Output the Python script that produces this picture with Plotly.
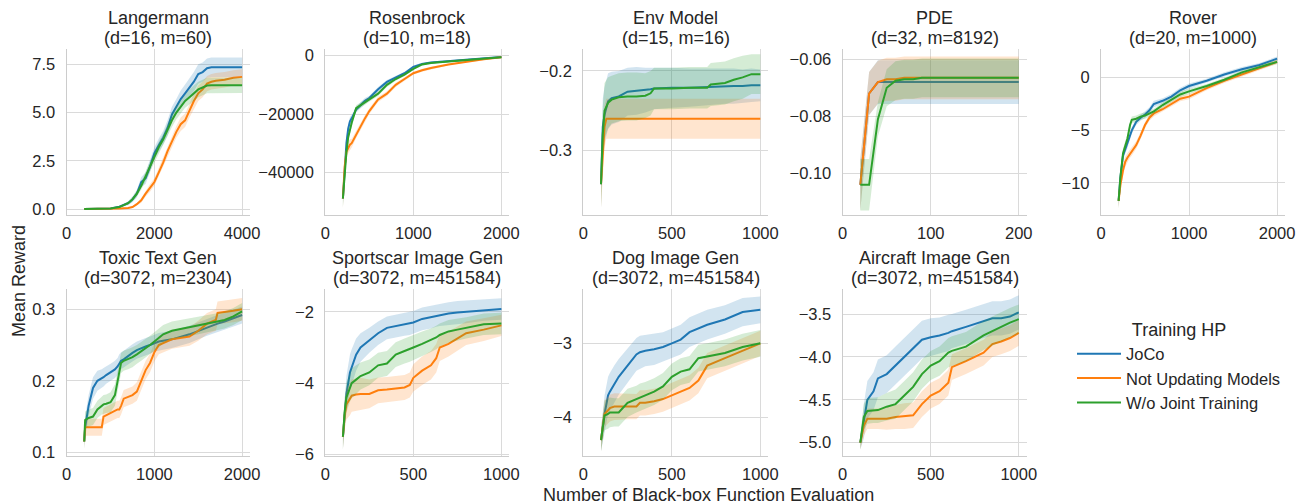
import plotly.graph_objects as go

# ---------------- data ----------------
SERIES = ["JoCo", "Not Updating Models", "W/o Joint Training"]
COLORS = ["#1f77b4", "#ff7f0e", "#2ca02c"]
BANDS = ["rgba(31,119,180,0.2)", "rgba(255,127,14,0.2)", "rgba(44,160,44,0.2)"]

# Langermann
lang_x = [400, 600, 800, 1000, 1200, 1400, 1500, 1600, 1700, 1800, 1900, 2000, 2100, 2200, 2300,
          2400, 2500, 2600, 2700, 2800, 2900, 3000, 3100, 3200, 3300, 3400, 3600, 3800, 4000]
lang_joco = [0, 0, 0.01, 0.03, 0.12, 0.3, 0.5, 0.8, 1.4, 1.6, 2.2, 2.9, 3.3, 3.7, 4.2, 4.9, 5.3, 5.7,
             6.0, 6.3, 6.6, 7.0, 7.1, 7.3, 7.35, 7.35, 7.35, 7.35, 7.35]
lang_noupd = [0, 0, 0, 0.01, 0.03, 0.05, 0.1, 0.25, 0.45, 0.8, 1.1, 1.4, 1.9, 2.4, 3.0, 3.5, 4.0, 4.4,
              4.6, 5.1, 5.6, 6.0, 6.2, 6.5, 6.6, 6.65, 6.7, 6.8, 6.85]
lang_nojoint = [0, 0, 0.01, 0.03, 0.1, 0.3, 0.5, 0.8, 1.2, 1.7, 2.2, 2.7, 3.2, 3.6, 4.1, 4.6, 5.0, 5.3,
                5.6, 5.8, 6.0, 6.2, 6.3, 6.4, 6.42, 6.42, 6.42, 6.42, 6.42]
lang_joco_err = [0, 0, 0.01, 0.02, 0.05, 0.1, 0.15, 0.2, 0.25, 0.3, 0.3, 0.3, 0.35, 0.35, 0.4, 0.4,
                 0.4, 0.45, 0.45, 0.45, 0.5, 0.5, 0.5, 0.5, 0.5, 0.5, 0.5, 0.5, 0.5]
lang_noupd_err = [0, 0, 0, 0.01, 0.02, 0.03, 0.05, 0.08, 0.12, 0.15, 0.2, 0.2, 0.25, 0.25, 0.3, 0.3,
                  0.3, 0.35, 0.35, 0.35, 0.4, 0.4, 0.4, 0.4, 0.4, 0.4, 0.4, 0.4, 0.4]
lang_nojoint_err = [0, 0, 0.01, 0.02, 0.04, 0.08, 0.12, 0.15, 0.2, 0.25, 0.25, 0.3, 0.3, 0.3, 0.3,
                    0.35, 0.35, 0.35, 0.35, 0.4, 0.4, 0.4, 0.4, 0.4, 0.4, 0.4, 0.4, 0.4, 0.4]

# Rosenbrock
rosen_x = [200, 220, 240, 260, 280, 300, 350, 400, 450, 500, 600, 700, 800, 900, 1000, 1100, 1200,
           1400, 1600, 1800, 2000]
rosen_joco = [-49000, -38000, -30000, -25000, -22500, -21500, -18500, -17000, -15500, -14500, -11500,
              -9000, -7500, -6000, -3800, -2800, -2300, -1800, -1300, -700, -400]
rosen_noupd = [-49000, -38000, -33000, -31500, -30500, -30000, -27000, -24500, -21500, -19000, -15000,
               -13000, -10000, -8000, -6000, -5000, -4200, -3000, -2000, -1200, -500]
rosen_nojoint = [-49000, -40000, -33000, -28000, -25000, -23000, -18000, -17000, -16000, -15000, -13000,
                 -10000, -8000, -6500, -4500, -3000, -2500, -2000, -1500, -900, -500]
rosen_joco_err = [3000, 2500, 2000, 1500, 1500, 1200, 1000, 1000, 1000, 800, 800, 700, 600, 500, 400,
                  400, 300, 300, 300, 200, 200]
rosen_noupd_err = [3500, 3000, 2500, 2000, 1800, 1500, 1300, 1200, 1100, 1000, 900, 800, 700, 600, 500,
                   500, 400, 300, 300, 200, 200]
rosen_nojoint_err = [3000, 2500, 2000, 1500, 1500, 1200, 1000, 1000, 900, 800, 800, 700, 600, 500, 400,
                     400, 300, 300, 300, 200, 200]

# Env Model
env_x = [100, 110, 120, 130, 140, 160, 200, 250, 300, 350, 380, 400, 500, 600, 700, 720, 800, 850, 900,
         950, 1000]
env_joco = [-0.342, -0.27, -0.255, -0.245, -0.238, -0.234, -0.232, -0.226, -0.225, -0.224, -0.223,
            -0.222, -0.221, -0.221, -0.220, -0.220, -0.219, -0.219, -0.219, -0.218, -0.218]
env_noupd = [-0.342, -0.30, -0.27, -0.26, -0.26, -0.26, -0.26, -0.26, -0.26, -0.26, -0.26, -0.26, -0.26,
             -0.26, -0.26, -0.26, -0.26, -0.26, -0.26, -0.26, -0.26]
env_nojoint = [-0.342, -0.28, -0.25, -0.245, -0.240, -0.236, -0.233, -0.232, -0.232, -0.231, -0.228,
               -0.222, -0.222, -0.221, -0.221, -0.217, -0.215, -0.211, -0.208, -0.204, -0.204]
env_joco_err = [0.03, 0.035, 0.035, 0.035, 0.035, 0.033, 0.032, 0.03, 0.03, 0.028, 0.027, 0.026, 0.025,
                0.024, 0.023, 0.023, 0.022, 0.022, 0.021, 0.021, 0.02]
env_noupd_err = [0.03, 0.03, 0.027, 0.025, 0.025, 0.025, 0.025, 0.025, 0.025, 0.025, 0.025, 0.025, 0.025,
                 0.025, 0.025, 0.025, 0.025, 0.025, 0.025, 0.025, 0.025]
env_nojoint_err = [0.03, 0.035, 0.035, 0.033, 0.032, 0.03, 0.03, 0.03, 0.03, 0.028, 0.028, 0.026, 0.026,
                   0.026, 0.026, 0.027, 0.027, 0.027, 0.027, 0.025, 0.025]

# PDE
pde_x = [20, 30, 40, 50, 60, 70, 80, 90, 100, 120, 140, 160, 180, 200]
pde_joco = [-0.104, -0.072, -0.068, -0.068, -0.068, -0.068, -0.068, -0.068, -0.068, -0.068, -0.068,
            -0.068, -0.068, -0.068]
pde_noupd = [-0.104, -0.072, -0.068, -0.067, -0.067, -0.0665, -0.0665, -0.0665, -0.0665, -0.0665,
             -0.0665, -0.0665, -0.0665, -0.0665]
pde_nojoint = [-0.104, -0.104, -0.081, -0.070, -0.0675, -0.067, -0.067, -0.0665, -0.0665, -0.0665,
               -0.0665, -0.0665, -0.0665, -0.0665]
pde_joco_err = [0.009, 0.0075, 0.0077, 0.0077, 0.0077, 0.0077, 0.0077, 0.0077, 0.0077, 0.0077, 0.0077,
                0.0077, 0.0077, 0.0077]
pde_noupd_err = [0.009, 0.0075, 0.0075, 0.0075, 0.0075, 0.0075, 0.0075, 0.0075, 0.0075, 0.0075, 0.0075,
                 0.0075, 0.0075, 0.0075]
pde_nojoint_err = [0.009, 0.009, 0.006, 0.0065, 0.0068, 0.0068, 0.0068, 0.0068, 0.0068, 0.0068, 0.0068,
                   0.0068, 0.0068, 0.0068]

# Rover
rover_x = [200, 220, 250, 275, 300, 330, 350, 400, 450, 500, 550, 600, 700, 800, 900, 1000, 1200, 1400,
           1600, 1800, 2000]
rover_joco = [-11.7, -9.5, -7.4, -6.8, -6.3, -5.6, -5.0, -4.2, -3.8, -3.5, -3.1, -2.5, -2.2, -1.8, -1.2,
              -0.8, -0.3, 0.3, 0.8, 1.2, 1.8]
rover_noupd = [-11.7, -10.2, -8.8, -8.0, -7.6, -7.2, -7.0, -6.4, -5.5, -4.5, -3.8, -3.4, -3.0, -2.5, -2.0,
               -1.8, -1.0, -0.3, 0.3, 0.9, 1.5]
rover_nojoint = [-11.7, -9.5, -7.2, -6.5, -5.8, -4.5, -4.0, -3.9, -3.7, -3.6, -3.4, -3.2, -2.6, -2.1,
                 -1.6, -1.3, -0.8, -0.2, 0.5, 1.0, 1.5]
rover_joco_err = [0.7, 0.6, 0.5, 0.4, 0.4, 0.35, 0.3, 0.3, 0.3, 0.3, 0.3, 0.3, 0.25, 0.25, 0.25, 0.25,
                  0.2, 0.2, 0.2, 0.2, 0.2]
rover_noupd_err = [0.7, 0.6, 0.55, 0.5, 0.45, 0.4, 0.4, 0.35, 0.35, 0.3, 0.3, 0.3, 0.25, 0.25, 0.25,
                   0.25, 0.2, 0.2, 0.2, 0.2, 0.2]
rover_nojoint_err = [0.7, 0.6, 0.5, 0.4, 0.4, 0.35, 0.3, 0.3, 0.3, 0.3, 0.3, 0.25, 0.25, 0.25, 0.25,
                     0.25, 0.2, 0.2, 0.2, 0.2, 0.2]

# Toxic Text Gen
toxic_x = [200, 210, 250, 300, 350, 400, 420, 450, 500, 550, 580, 600, 620, 650, 700, 750, 800, 850, 900,
           950, 1000, 1050, 1100, 1200, 1400, 1500, 1600, 1700, 1720, 1800, 1900, 2000]
toxic_joco = [0.115, 0.135, 0.165, 0.19, 0.2, 0.203, 0.205, 0.208, 0.212, 0.216, 0.22, 0.225, 0.228, 0.23,
              0.235, 0.239, 0.243, 0.246, 0.248, 0.25, 0.253, 0.255, 0.256, 0.258, 0.265, 0.27, 0.275,
              0.279, 0.28, 0.283, 0.288, 0.292]
toxic_noupd = [0.115, 0.135, 0.135, 0.135, 0.135, 0.135, 0.15, 0.152, 0.155, 0.158, 0.16, 0.16, 0.165,
               0.175, 0.178, 0.18, 0.185, 0.2, 0.215, 0.225, 0.24, 0.25, 0.253, 0.258, 0.262, 0.27, 0.28,
               0.285, 0.295, 0.296, 0.298, 0.3]
toxic_nojoint = [0.115, 0.145, 0.148, 0.15, 0.16, 0.165, 0.167, 0.168, 0.17, 0.18, 0.2, 0.215, 0.225,
                 0.228, 0.23, 0.233, 0.237, 0.241, 0.245, 0.25, 0.255, 0.26, 0.265, 0.27, 0.275, 0.277,
                 0.28, 0.282, 0.283, 0.285, 0.29, 0.297]
toxic_joco_err = [0.01, 0.015, 0.015, 0.015, 0.014, 0.013, 0.013, 0.012, 0.012, 0.012, 0.012, 0.012,
                  0.012, 0.012, 0.012, 0.012, 0.012, 0.012, 0.012, 0.012, 0.012, 0.012, 0.012, 0.012,
                  0.012, 0.012, 0.012, 0.012, 0.012, 0.012, 0.012, 0.012]
toxic_noupd_err = [0.01, 0.012, 0.012, 0.012, 0.012, 0.012, 0.012, 0.012, 0.012, 0.012, 0.012, 0.012,
                   0.012, 0.012, 0.012, 0.012, 0.013, 0.013, 0.013, 0.013, 0.013, 0.013, 0.013, 0.013,
                   0.013, 0.014, 0.015, 0.015, 0.016, 0.016, 0.016, 0.016]
toxic_nojoint_err = [0.01, 0.012, 0.012, 0.012, 0.012, 0.012, 0.013, 0.013, 0.014, 0.015, 0.015, 0.015,
                     0.014, 0.014, 0.014, 0.014, 0.013, 0.013, 0.013, 0.013, 0.013, 0.013, 0.013, 0.013,
                     0.012, 0.012, 0.012, 0.012, 0.012, 0.012, 0.012, 0.012]

# Sportscar Image Gen
sport_x = [100, 110, 120, 140, 150, 175, 200, 250, 300, 350, 400, 450, 480, 500, 550, 600, 630, 650, 700,
           750, 800, 900, 1000]
sport_joco = [-5.5, -4.8, -4.3, -3.7, -3.55, -3.2, -3.0, -2.8, -2.6, -2.45, -2.4, -2.35, -2.33, -2.3,
              -2.2, -2.15, -2.1, -2.08, -2.05, -2.02, -2.0, -1.95, -1.92]
sport_noupd = [-5.5, -4.9, -4.6, -4.45, -4.35, -4.32, -4.3, -4.3, -4.2, -4.18, -4.15, -4.12, -4.05, -3.85,
               -3.65, -3.5, -3.3, -3.0, -2.9, -2.75, -2.6, -2.5, -2.38]
sport_nojoint = [-5.5, -4.8, -4.4, -4.1, -4.0, -3.9, -3.8, -3.7, -3.5, -3.45, -3.2, -3.1, -3.05, -3.0,
                 -2.9, -2.8, -2.72, -2.65, -2.55, -2.5, -2.45, -2.35, -2.33]
sport_joco_err = [0.35, 0.45, 0.5, 0.5, 0.5, 0.45, 0.4, 0.35, 0.33, 0.32, 0.32, 0.32, 0.32, 0.32, 0.32,
                  0.32, 0.32, 0.32, 0.32, 0.32, 0.32, 0.3, 0.3]
sport_noupd_err = [0.35, 0.4, 0.42, 0.45, 0.45, 0.45, 0.45, 0.4, 0.36, 0.35, 0.35, 0.35, 0.35, 0.38, 0.4,
                   0.4, 0.4, 0.38, 0.35, 0.35, 0.33, 0.32, 0.3]
sport_nojoint_err = [0.35, 0.4, 0.42, 0.42, 0.42, 0.4, 0.38, 0.36, 0.35, 0.35, 0.35, 0.35, 0.35, 0.35,
                     0.35, 0.33, 0.33, 0.32, 0.32, 0.3, 0.3, 0.3, 0.3]

# Dog Image Gen
dog_x = [100, 120, 140, 150, 175, 200, 250, 300, 320, 350, 400, 450, 500, 550, 600, 650, 700, 800, 900, 1000]
dog_joco = [-4.3, -3.95, -3.7, -3.65, -3.55, -3.45, -3.3, -3.15, -3.12, -3.1, -3.08, -3.05, -3.0, -2.95,
            -2.85, -2.8, -2.75, -2.68, -2.58, -2.55]
dog_noupd = [-4.3, -3.95, -3.9, -3.87, -3.85, -3.85, -3.85, -3.85, -3.8, -3.8, -3.78, -3.75, -3.7, -3.65,
             -3.6, -3.5, -3.3, -3.2, -3.1, -3.0]
dog_nojoint = [-4.3, -3.97, -3.95, -3.93, -3.93, -3.93, -3.8, -3.75, -3.72, -3.7, -3.65, -3.58, -3.45,
               -3.38, -3.35, -3.2, -3.18, -3.13, -3.05, -3.0]
dog_joco_err = [0.15, 0.25, 0.25, 0.25, 0.25, 0.24, 0.23, 0.22, 0.22, 0.21, 0.21, 0.2, 0.2, 0.2, 0.2,
                0.2, 0.2, 0.19, 0.19, 0.18]
dog_noupd_err = [0.15, 0.18, 0.18, 0.18, 0.18, 0.18, 0.17, 0.17, 0.17, 0.17, 0.17, 0.17, 0.17, 0.17,
                 0.17, 0.17, 0.17, 0.17, 0.17, 0.17]
dog_nojoint_err = [0.15, 0.2, 0.2, 0.2, 0.19, 0.19, 0.19, 0.18, 0.18, 0.18, 0.18, 0.18, 0.18, 0.18,
                   0.18, 0.18, 0.18, 0.18, 0.18, 0.18]

# Aircraft Image Gen
air_x = [100, 120, 140, 175, 200, 250, 300, 350, 400, 450, 500, 550, 600, 620, 700, 800, 850, 900, 950, 1000]
air_joco = [-5.0, -4.75, -4.5, -4.4, -4.25, -4.2, -4.1, -4.0, -3.9, -3.8, -3.77, -3.75, -3.72, -3.7,
            -3.65, -3.58, -3.55, -3.55, -3.53, -3.48]
air_noupd = [-5.0, -4.8, -4.72, -4.72, -4.72, -4.72, -4.7, -4.69, -4.68, -4.55, -4.45, -4.4, -4.3, -4.12,
             -4.05, -3.95, -3.85, -3.82, -3.78, -3.72]
air_nojoint = [-5.0, -4.7, -4.63, -4.62, -4.62, -4.58, -4.55, -4.45, -4.35, -4.2, -4.1, -4.05, -3.95,
               -3.93, -3.88, -3.75, -3.7, -3.65, -3.6, -3.56]
air_joco_err = [0.08, 0.2, 0.22, 0.22, 0.22, 0.22, 0.22, 0.22, 0.22, 0.22, 0.22, 0.21, 0.21, 0.2, 0.2,
                0.2, 0.2, 0.2, 0.2, 0.2]
air_noupd_err = [0.08, 0.12, 0.12, 0.12, 0.12, 0.13, 0.14, 0.15, 0.15, 0.15, 0.15, 0.15, 0.15, 0.15,
                 0.15, 0.15, 0.15, 0.15, 0.15, 0.15]
air_nojoint_err = [0.08, 0.15, 0.15, 0.15, 0.15, 0.16, 0.17, 0.17, 0.17, 0.17, 0.17, 0.17, 0.17, 0.17,
                   0.17, 0.17, 0.17, 0.17, 0.17, 0.17]

PANELS = [
    ("Langermann", "(d=16, m=60)", lang_x, [lang_joco, lang_noupd, lang_nojoint],
     [lang_joco_err, lang_noupd_err, lang_nojoint_err], [0, 4180], [-0.31, 8.28],
     [0, 2000, 4000], [0, 2.5, 5, 7.5], ".1f"),
    ("Rosenbrock", "(d=10, m=18)", rosen_x, [rosen_joco, rosen_noupd, rosen_nojoint],
     [rosen_joco_err, rosen_noupd_err, rosen_nojoint_err], [0, 2090], [-54650, 2200],
     [0, 1000, 2000], [-40000, -20000, 0], "d"),
    ("Env Model", "(d=15, m=16)", env_x, [env_joco, env_noupd, env_nojoint],
     [env_joco_err, env_noupd_err, env_nojoint_err], [0, 1045], [-0.3807, -0.1728],
     [0, 500, 1000], [-0.3, -0.2], ".1f"),
    ("PDE", "(d=32, m=8192)", pde_x, [pde_joco, pde_noupd, pde_nojoint],
     [pde_joco_err, pde_noupd_err, pde_nojoint_err], [0, 209], [-0.1146, -0.0565],
     [0, 100, 200], [-0.10, -0.08, -0.06], ".2f"),
    ("Rover", "(d=20, m=1000)", rover_x, [rover_joco, rover_noupd, rover_nojoint],
     [rover_joco_err, rover_noupd_err, rover_nojoint_err], [0, 2090], [-13.04, 2.69],
     [0, 1000, 2000], [-10, -5, 0], "d"),
    ("Toxic Text Gen", "(d=3072, m=2304)", toxic_x, [toxic_joco, toxic_noupd, toxic_nojoint],
     [toxic_joco_err, toxic_noupd_err, toxic_nojoint_err], [0, 2090], [0.0948, 0.328],
     [0, 1000, 2000], [0.1, 0.2, 0.3], ".1f"),
    ("Sportscar Image Gen", "(d=3072, m=451584)", sport_x, [sport_joco, sport_noupd, sport_nojoint],
     [sport_joco_err, sport_noupd_err, sport_nojoint_err], [0, 1045], [-6.04, -1.37],
     [0, 500, 1000], [-6, -4, -2], "d"),
    ("Dog Image Gen", "(d=3072, m=451584)", dog_x, [dog_joco, dog_noupd, dog_nojoint],
     [dog_joco_err, dog_noupd_err, dog_nojoint_err], [0, 1045], [-4.515, -2.274],
     [0, 500, 1000], [-4, -3], "d"),
    ("Aircraft Image Gen", "(d=3072, m=451584)", air_x, [air_joco, air_noupd, air_nojoint],
     [air_joco_err, air_noupd_err, air_nojoint_err], [0, 1045], [-5.155, -3.212],
     [0, 500, 1000], [-5.0, -4.5, -4.0, -3.5], ".1f"),
]

# ---------------- layout ----------------
W, H = 1299, 504
COL_PX = [(66.7, 250), (325.3, 509.3), (583.3, 768.3), (842.7, 1026.7), (1101, 1285)]
ROW_PX = [(49.3, 215), (289.3, 456)]
FONT = "Liberation Sans, Arial, Helvetica, sans-serif"
TXT = "#262626"

fig = go.Figure()
annotations = []
layout_axes = {}

for i, (title, sub, xs, means, errs, xr, yr, xt, yt, fmt) in enumerate(PANELS):
    r, c = divmod(i, 5)
    k = "" if i == 0 else str(i + 1)
    xa, ya = "x" + k, "y" + k
    x0, x1 = COL_PX[c]
    t0, t1 = ROW_PX[r]
    layout_axes["xaxis" + k] = dict(
        domain=[x0 / W, x1 / W], anchor=ya, range=xr, tickvals=xt, tickformat="d",
        showgrid=True, gridcolor="#dadada", gridwidth=1, zeroline=False, automargin=False,
        showline=True, linecolor="#cccccc", linewidth=1.25, ticks="",
        tickfont=dict(size=16.5, color=TXT, family=FONT), ticklabelstandoff=3)
    layout_axes["yaxis" + k] = dict(
        domain=[1 - t1 / H, 1 - t0 / H], anchor=xa, range=yr, tickvals=yt, tickformat=fmt,
        showgrid=True, gridcolor="#dadada", gridwidth=1, zeroline=False, automargin=False,
        showline=True, linecolor="#cccccc", linewidth=1.25, ticks="",
        tickfont=dict(size=16.5, color=TXT, family=FONT), ticklabelstandoff=7)
    for s in range(3):
        m, e = means[s], errs[s]
        upper = [a + b for a, b in zip(m, e)]
        lower = [a - b for a, b in zip(m, e)]
        fig.add_trace(go.Scatter(
            x=list(xs) + list(xs)[::-1], y=upper + lower[::-1], fill="toself",
            fillcolor=BANDS[s], line=dict(width=0), mode="lines", hoverinfo="skip",
            showlegend=False, xaxis=xa, yaxis=ya))
        fig.add_trace(go.Scatter(
            x=xs, y=m, mode="lines", line=dict(color=COLORS[s], width=2),
            name=SERIES[s], showlegend=(i == 0),
            xaxis=xa, yaxis=ya))
    cx = (x0 + x1) / 2 / W
    annotations.append(dict(text=title, x=cx, y=1 - (t0 - 31) / H, xref="paper", yref="paper",
                            xanchor="center", yanchor="middle", showarrow=False,
                            font=dict(size=18, color=TXT, family=FONT)))
    annotations.append(dict(text=sub, x=cx, y=1 - (t0 - 11) / H, xref="paper", yref="paper",
                            xanchor="center", yanchor="middle", showarrow=False,
                            font=dict(size=18, color=TXT, family=FONT)))

annotations.append(dict(text="Mean Reward", x=18.5 / W, y=1 - 281.5 / H, xref="paper", yref="paper",
                        xanchor="center", yanchor="middle", textangle=-90, showarrow=False,
                        font=dict(size=18, color=TXT, family=FONT)))
annotations.append(dict(text="Number of Black-box Function Evaluation", x=708.5 / W, y=1 - 495 / H,
                        xref="paper", yref="paper", xanchor="center", yanchor="middle",
                        showarrow=False, font=dict(size=18, color=TXT, family=FONT)))

fig.update_layout(
    template="none",
    width=W, height=H, margin=dict(l=0, r=0, t=0, b=0, autoexpand=False),
    paper_bgcolor="white", plot_bgcolor="white",
    font=dict(family=FONT, color=TXT),
    annotations=annotations,
    showlegend=True,
    legend=dict(title=dict(text="Training HP", side="top center", font=dict(size=18, color=TXT)),
                font=dict(size=16.5, color=TXT, family=FONT), tracegroupgap=0,
                x=1072 / W, y=1 - 313 / H, xanchor="left", yanchor="top",
                bgcolor="rgba(0,0,0,0)", borderwidth=0, itemwidth=44),
    **layout_axes,
)

fig.write_html("out.html", config={"displayModeBar": False},
               post_script="document.body.style.margin='0';document.body.style.overflow='hidden';")
